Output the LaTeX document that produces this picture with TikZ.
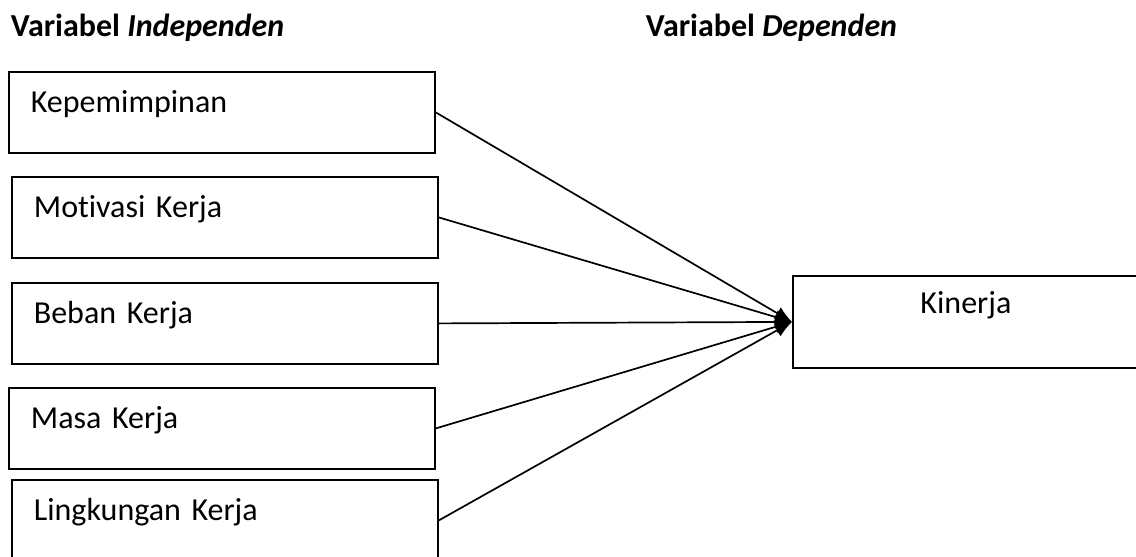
\documentclass[tikz,border=0pt]{standalone}
\usepackage{fontspec}
\setmainfont[RawFeature={-liga;-dlig;-calt}]{Carlito}
\usetikzlibrary{arrows.meta}

\begin{document}
\begin{tikzpicture}[x=1pt, y=-1pt, line width=1.8pt,
  every node/.style={font=\fontsize{32}{38}\selectfont},
  varbox/.style={draw, anchor=north west, inner xsep=22pt, inner ysep=0pt,
    text width=382pt, align=left, text height=41pt, text depth=40pt},
  depbox/.style={draw, anchor=north west, inner xsep=0pt, inner ysep=0pt,
    text width=346pt, align=center, text height=38pt, text depth=54pt},
  heading/.style={anchor=base west, inner sep=0pt, font=\fontsize{32}{38}\selectfont\bfseries},
  conn/.style={-{Latex[length=17pt,width=14pt]}, line width=1.7pt}]

  \useasboundingbox (0,0) rectangle (1136,557);

  \node[heading] (hind) at (10,36) {Variabel \textit{Independen}};
  \node[heading] (hdep) at (645,36) {Variabel \textit{Dependen}};

  % independent variables
  \node[varbox] (kep) at (8,71)   {Kepemimpinan};
  \node[varbox] (mot) at (11,176) {Motivasi Kerja};
  \node[varbox] (beb) at (11,282) {Beban Kerja};
  \node[varbox] (mas) at (8,387)  {Masa Kerja};
  \node[varbox] (lin) at (11,479) {Lingkungan Kerja};

  % dependent variable
  \node[depbox] (kin) at (792,275) {Kinerja};

  \foreach \v in {kep,mot,beb,mas,lin}
    \draw[conn] (\v.east) -- (kin.west);

\end{tikzpicture}
\end{document}
